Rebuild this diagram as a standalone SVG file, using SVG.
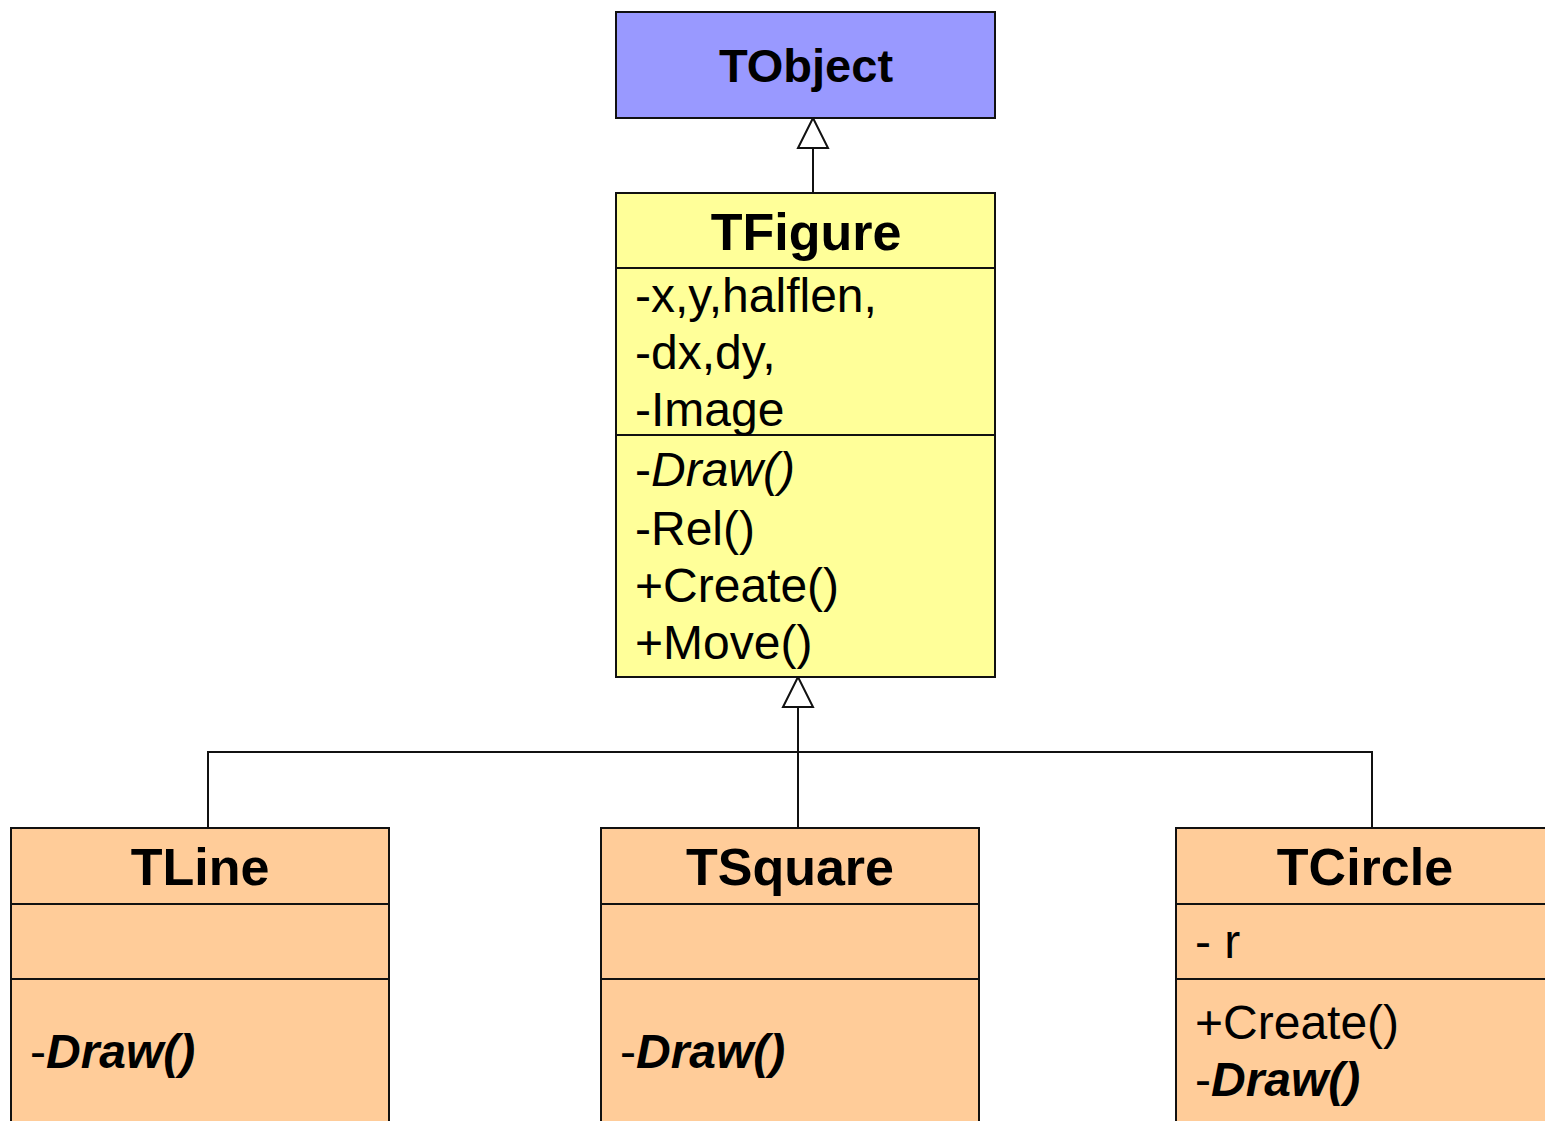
<svg xmlns="http://www.w3.org/2000/svg" width="1545" height="1121" viewBox="0 0 1545 1121">
<style>
.box{stroke:#111;stroke-width:2}
.div{stroke:#111;stroke-width:2}
.title{font-family:"Liberation Sans",Arial,sans-serif;font-weight:bold;text-anchor:middle;fill:#000}
.t{font-family:"Liberation Sans",Arial,sans-serif;font-size:48px;fill:#000}
.conn{stroke:#111;stroke-width:2;fill:none}
.head{fill:#fff;stroke:#111;stroke-width:2}
</style>
<rect width="1545" height="1121" fill="#fff"/>
<g id="connectors">
<line class="conn" x1="813" y1="148" x2="813" y2="193"/>
<polygon class="head" points="813,118 798,148 828,148"/>
<line class="conn" x1="798" y1="707" x2="798" y2="828"/>
<polyline class="conn" points="208,828 208,752 1372,752 1372,828"/>
<polygon class="head" points="798,677 783,707 813,707"/>
</g>
<g id="TObject">
<rect class="box" x="616" y="12" width="379" height="106" fill="#9999FF"/>
<text class="title" x="806" y="82" font-size="47">TObject</text>
</g>
<g id="TFigure">
<rect class="box" x="616" y="193" width="379" height="484" fill="#FFFF99"/>
<line class="div" x1="616" y1="268" x2="995" y2="268"/>
<line class="div" x1="616" y1="435" x2="995" y2="435"/>
<text class="title" x="806" y="250" font-size="52">TFigure</text>
<text class="t" x="635" y="312">-x,y,halflen,</text>
<text class="t" x="635" y="369">-dx,dy,</text>
<text class="t" x="635" y="426">-Image</text>
<text class="t" x="635" y="486">-<tspan font-style="italic">Draw()</tspan></text>
<text class="t" x="635" y="545">-Rel()</text>
<text class="t" x="635" y="602">+Create()</text>
<text class="t" x="635" y="659">+Move()</text>
</g>
<g id="TLine">
<rect class="box" x="11" y="828" width="378" height="300" fill="#FFCC99"/>
<line class="div" x1="11" y1="904" x2="389" y2="904"/>
<line class="div" x1="11" y1="979" x2="389" y2="979"/>
<text class="title" x="200" y="885" font-size="52">TLine</text>
<text class="t" x="30" y="1068">-<tspan font-style="italic" font-weight="bold">Draw()</tspan></text>
</g>
<g id="TSquare">
<rect class="box" x="601" y="828" width="378" height="300" fill="#FFCC99"/>
<line class="div" x1="601" y1="904" x2="979" y2="904"/>
<line class="div" x1="601" y1="979" x2="979" y2="979"/>
<text class="title" x="790" y="885" font-size="52">TSquare</text>
<text class="t" x="620" y="1068">-<tspan font-style="italic" font-weight="bold">Draw()</tspan></text>
</g>
<g id="TCircle">
<rect class="box" x="1176" y="828" width="378" height="300" fill="#FFCC99"/>
<line class="div" x1="1176" y1="904" x2="1554" y2="904"/>
<line class="div" x1="1176" y1="979" x2="1554" y2="979"/>
<text class="title" x="1365" y="885" font-size="52">TCircle</text>
<text class="t" x="1195" y="958">- r</text>
<text class="t" x="1195" y="1039">+Create()</text>
<text class="t" x="1195" y="1096">-<tspan font-style="italic" font-weight="bold">Draw()</tspan></text>
</g>
</svg>
